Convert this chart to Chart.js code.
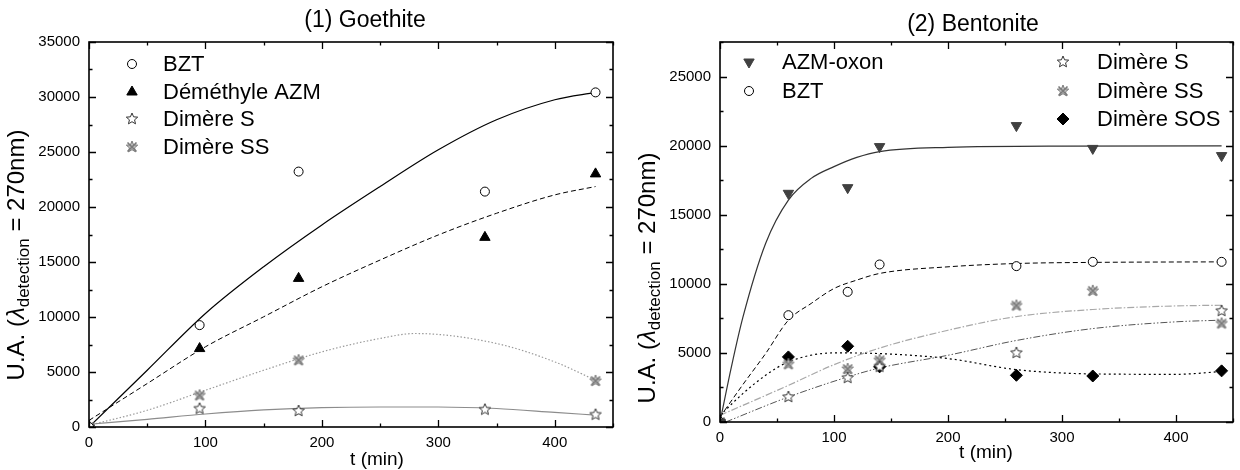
<!DOCTYPE html>
<html>
<head>
<meta charset="utf-8">
<script src="https://cdn.jsdelivr.net/npm/chart.js@4.4.1/dist/chart.umd.min.js"></script>
<style>
  html, body { margin: 0; padding: 0; background: #fff; }
  .wrap { display: flex; width: 1240px; height: 470px; }
  .panel { width: 620px; height: 470px; }
</style>
</head>
<body>
<div class="wrap">
  <div class="panel"><canvas id="goethite" width="620" height="470"></canvas></div>
  <div class="panel"><canvas id="bentonite" width="620" height="470"></canvas></div>
</div>
<script>
const FONT = "'Liberation Sans', Arial, sans-serif";

// ── (1) Goethite : mesures ──────────────────────────────────────────────────
const goeTimes = [0, 95, 180, 340, 435];
const goeBZT = [0, 9260, 23220, 21400, 30420];
const goeDemethyl = [0, 7130, 13510, 17240, 23010];
const goeDimereS = [0, 1670, 1460, 1580, 1120];
const goeSSTimes = [0, 95, 180, 435];
const goeDimereSS = [0, 2880, 6070, 4190];

// courbes d'ajustement
const goeFitTimes = [0, 50, 100, 150, 200, 250, 300, 350, 400, 435];
const goeFitBZT = [0, 5160, 10320, 14570, 18370, 21860, 25200, 27930, 29750, 30420];
const goeFitDemethyl = [600, 3950, 7290, 10020, 12750, 15180, 17460, 19430, 21100, 21860];
const goeFitS = [250, 700, 1180, 1550, 1760, 1820, 1820, 1680, 1330, 1080];
const goeFitSSTimes = [0, 50, 100, 150, 200, 250, 280, 350, 400, 435];
const goeFitSS = [150, 1520, 3340, 5160, 6830, 8050, 8500, 7590, 5920, 4250];

// ── (2) Bentonite : mesures ─────────────────────────────────────────────────
const benTimes = [0, 60, 112, 140, 260, 327, 440];
const benAZMoxon = [0, 16550, 16960, 19930, 21450, 19800, 19280];
const benBZT = [0, 7730, 9420, 11400, 11280, 11590, 11590];
const benSTimes = [0, 60, 112, 140, 260, 440];
const benDimereS = [0, 1810, 3190, 4000, 5000, 8040];
const benDimereSS = [0, 4180, 3840, 4470, 8430, 9490, 7130];
const benDimereSOS = [0, 4710, 5480, 3990, 3380, 3330, 3700];

// courbes d'ajustement
const benFitAZMTimes = [0, 10, 20, 40, 60, 80, 100, 120, 140, 200, 300, 440];
const benFitAZM = [0, 3990, 7550, 12920, 16060, 17630, 18480, 19150, 19570, 19880, 19970, 19980];
const benFitBZTTimes = [0, 20, 40, 60, 80, 100, 120, 140, 200, 260, 327, 440];
const benFitBZT = [360, 2700, 4950, 7370, 8580, 9660, 10270, 10750, 11230, 11470, 11550, 11590];
const benFitSSTimes = [0, 60, 100, 140, 200, 260, 327, 400, 440];
const benFitSS = [480, 2650, 4150, 5350, 6640, 7630, 8140, 8400, 8450];
const benFitSTimes = [5, 60, 112, 140, 200, 260, 327, 400, 440];
const benFitS = [0, 1810, 3260, 3910, 4830, 5900, 6760, 7250, 7370];
const benFitSOSTimes = [0, 20, 40, 60, 100, 140, 200, 260, 327, 400, 440];
const benFitSOS = [480, 2050, 3380, 4350, 5000, 4950, 4590, 3790, 3480, 3450, 3650];

// ── Marqueurs ───────────────────────────────────────────────────────────────

function starCanvas(r, stroke, fill, cross) {
  const size = Math.ceil(r * 2 + 4);
  const c = document.createElement('canvas');
  c.width = c.height = size;
  const g = c.getContext('2d');
  const cx = size / 2, cy = size / 2;
  g.beginPath();
  for (let i = 0; i < 10; i++) {
    const rad = i % 2 === 0 ? r : r * 0.45;
    const a = -Math.PI / 2 + i * Math.PI / 5;
    const px = cx + rad * Math.cos(a), py = cy + rad * Math.sin(a);
    if (i === 0) g.moveTo(px, py); else g.lineTo(px, py);
  }
  g.closePath();
  g.fillStyle = fill;
  g.fill();
  g.strokeStyle = stroke;
  g.lineWidth = 1;
  g.stroke();
  if (cross) {
    g.lineWidth = 1.6;
    g.beginPath();
    const k = r * 0.75;
    g.moveTo(cx - k, cy - k); g.lineTo(cx + k, cy + k);
    g.moveTo(cx + k, cy - k); g.lineTo(cx - k, cy + k);
    g.stroke();
  }
  return c;
}

const STAR_OPEN = starCanvas(6, '#333', '#fff', false);
const STAR_GREY = starCanvas(6, '#7a7a7a', '#bdbdbd', true);

function pts(xs, ys) {
  return xs.map((x, i) => ({ x, y: ys[i] }));
}

function markers(label, xs, ys, shape, fill, stroke, radius, rotation) {
  return {
    label,
    data: pts(xs, ys),
    showLine: false,
    pointStyle: shape,
    pointRadius: radius,
    pointHoverRadius: radius,
    pointRotation: rotation || 0,
    pointBackgroundColor: fill,
    pointBorderColor: stroke,
    pointBorderWidth: 1,
  };
}

function fit(xs, ys, color, dash, width) {
  return {
    label: '',
    data: pts(xs, ys),
    showLine: true,
    pointRadius: 0,
    pointHoverRadius: 0,
    borderColor: color,
    borderDash: dash,
    borderWidth: width || 1,
    cubicInterpolationMode: 'monotone',
    fill: false,
  };
}

// ── Plugins : cadre, graduations internes, légende, titres ─────────────────

const frameTicks = {
  id: 'frameTicks',
  afterDatasetsDraw(chart, args, opts) {
    const { ctx, chartArea: a, scales: { x, y } } = chart;
    ctx.save();
    ctx.strokeStyle = '#000';
    ctx.lineWidth = 1.3;
    ctx.beginPath();
    for (let v = x.min; v <= x.max; v += opts.xMinor) {
      const len = v % opts.xMajor === 0 ? 7 : 3.5;
      const px = Math.round(x.getPixelForValue(v)) + 0.5;
      ctx.moveTo(px, a.bottom); ctx.lineTo(px, a.bottom - len);
      ctx.moveTo(px, a.top); ctx.lineTo(px, a.top + len);
    }
    for (let v = y.min; v <= y.max; v += opts.yMinor) {
      const len = v % opts.yMajor === 0 ? 7 : 3.5;
      const py = Math.round(y.getPixelForValue(v)) + 0.5;
      ctx.moveTo(a.left, py); ctx.lineTo(a.left + len, py);
      ctx.moveTo(a.right, py); ctx.lineTo(a.right - len, py);
    }
    ctx.stroke();
    ctx.lineWidth = 1.6;
    ctx.strokeRect(a.left, a.top, a.right - a.left, a.bottom - a.top);
    ctx.restore();
  },
};

const insideLegend = {
  id: 'insideLegend',
  afterDraw(chart, args, opts) {
    const { ctx } = chart;
    ctx.save();
    ctx.font = `22px ${FONT}`;
    ctx.textBaseline = 'middle';
    opts.items.forEach(it => {
      const ds = chart.data.datasets[it.ds];
      ctx.fillStyle = ds.pointBackgroundColor;
      ctx.strokeStyle = ds.pointBorderColor;
      ctx.lineWidth = ds.pointBorderWidth;
      Chart.helpers.drawPoint(ctx, {
        pointStyle: ds.pointStyle,
        rotation: ds.pointRotation,
        radius: ds.pointRadius,
        borderWidth: ds.pointBorderWidth,
      }, it.x, it.y);
      ctx.fillStyle = '#000';
      ctx.fillText(ds.label, it.tx, it.y + 1);
    });
    ctx.restore();
  },
};

const axisTitles = {
  id: 'axisTitles',
  afterDraw(chart, args, opts) {
    const { ctx } = chart;
    ctx.save();
    ctx.fillStyle = '#000';
    ctx.textAlign = 'center';
    ctx.textBaseline = 'middle';

    ctx.font = `23px ${FONT}`;
    ctx.fillText(opts.title.text, opts.title.x, opts.title.y);

    ctx.font = `19px ${FONT}`;
    ctx.fillText('t (min)', opts.xTitle.x, opts.xTitle.y);

    // U.A. (λ_detection = 270nm), tourné de 90°
    const parts = [
      { t: 'U.A. (', f: `24px ${FONT}`, dy: 0 },
      { t: 'λ', f: `italic 24px ${FONT}`, dy: 0 },
      { t: 'detection', f: `17px ${FONT}`, dy: 7 },
      { t: ' = 270nm)', f: `24px ${FONT}`, dy: 0 },
    ];
    let total = 0;
    parts.forEach(p => { ctx.font = p.f; p.w = ctx.measureText(p.t).width; total += p.w; });
    ctx.translate(opts.yTitle.x, opts.yTitle.y);
    ctx.rotate(-Math.PI / 2);
    ctx.textAlign = 'left';
    let cx = -total / 2;
    parts.forEach(p => {
      ctx.font = p.f;
      ctx.fillText(p.t, cx, p.dy);
      cx += p.w;
    });
    ctx.restore();
  },
};

// ── Construction des graphiques ─────────────────────────────────────────────

function buildOptions({ yMax, yWidth, xHeight, padRight, plugins }) {
  const tickFont = { family: FONT, size: 15 };
  return {
    responsive: false,
    animation: false,
    devicePixelRatio: 1,
    layout: { padding: { top: 42, right: padRight, bottom: 0, left: 0 } },
    plugins: Object.assign({ legend: { display: false }, tooltip: { enabled: false } }, plugins),
    scales: {
      x: {
        type: 'linear',
        min: 0,
        max: 450,
        grid: { display: false, drawTicks: false },
        border: { display: false },
        ticks: {
          stepSize: 50, padding: 7, color: '#000', font: tickFont,
          maxRotation: 0, autoSkip: false, callback: v => String(v),
        },
        afterBuildTicks: s => { s.ticks = s.ticks.filter(t => Math.round(t.value) % 100 === 0); },
        afterFit: s => { s.height = xHeight; },
      },
      y: {
        type: 'linear',
        min: 0,
        max: yMax,
        grid: { display: false, drawTicks: false },
        border: { display: false },
        ticks: {
          stepSize: 2500, padding: 9, color: '#000', font: tickFont,
          autoSkip: false, callback: v => String(v),
        },
        afterBuildTicks: s => { s.ticks = s.ticks.filter(t => Math.round(t.value) % 5000 === 0); },
        afterFit: s => { s.width = yWidth; },
      },
    },
  };
}

function renderGoethite() {
  const datasets = [
    markers('BZT', goeTimes, goeBZT, 'circle', '#fff', '#000', 4.5),
    markers('Déméthyle AZM', goeTimes, goeDemethyl, 'triangle', '#000', '#000', 6),
    markers('Dimère S', goeTimes, goeDimereS, STAR_OPEN, '#fff', '#333', 6),
    markers('Dimère SS', goeSSTimes, goeDimereSS, STAR_GREY, '#bdbdbd', '#7a7a7a', 6),
    fit(goeFitTimes, goeFitBZT, '#000', [], 1.2),
    fit(goeFitTimes, goeFitDemethyl, '#000', [5, 3], 1),
    fit(goeFitTimes, goeFitS, '#8c8c8c', [], 1.2),
    fit(goeFitSSTimes, goeFitSS, '#9a9a9a', [1.5, 2], 1.2),
  ];

  const ctx = document.getElementById('goethite').getContext('2d');
  new Chart(ctx, {
    type: 'scatter',
    data: { datasets },
    options: buildOptions({
      yMax: 35000,
      yWidth: 89,
      xHeight: 43,
      padRight: 4.5,
      plugins: {
        frameTicks: { xMinor: 50, xMajor: 100, yMinor: 2500, yMajor: 5000 },
        insideLegend: {
          items: [
            { ds: 0, x: 132, y: 64, tx: 163 },
            { ds: 1, x: 132, y: 92, tx: 163 },
            { ds: 2, x: 132, y: 119, tx: 163 },
            { ds: 3, x: 132, y: 147, tx: 163 },
          ],
        },
        axisTitles: {
          title: { text: '(1) Goethite', x: 365, y: 21 },
          xTitle: { x: 377, y: 460 },
          yTitle: { x: 17, y: 255 },
        },
      },
    }),
    plugins: [frameTicks, insideLegend, axisTitles],
  });
}

function renderBentonite() {
  const datasets = [
    markers('AZM-oxon', benTimes, benAZMoxon, 'triangle', '#404040', '#404040', 6, 180),
    markers('BZT', benTimes, benBZT, 'circle', '#fff', '#000', 4.5),
    markers('Dimère S', benSTimes, benDimereS, STAR_OPEN, '#fff', '#333', 6),
    markers('Dimère SS', benTimes, benDimereSS, STAR_GREY, '#bdbdbd', '#7a7a7a', 6),
    markers('Dimère SOS', benTimes, benDimereSOS, 'rectRot', '#000', '#000', 6),
    fit(benFitAZMTimes, benFitAZM, '#333', [], 1.2),
    fit(benFitBZTTimes, benFitBZT, '#000', [5, 3], 1),
    fit(benFitSSTimes, benFitSS, '#a8a8a8', [7, 2, 1.5, 2], 1.2),
    fit(benFitSTimes, benFitS, '#555', [7, 2, 1.5, 2, 1.5, 2], 1),
    fit(benFitSOSTimes, benFitSOS, '#000', [2, 3], 1.2),
  ];

  const ctx = document.getElementById('bentonite').getContext('2d');
  new Chart(ctx, {
    type: 'scatter',
    data: { datasets },
    options: buildOptions({
      yMax: 27500,
      yWidth: 100,
      xHeight: 48,
      padRight: 1,
      plugins: {
        frameTicks: { xMinor: 50, xMajor: 100, yMinor: 2500, yMajor: 5000 },
        insideLegend: {
          items: [
            { ds: 0, x: 129, y: 62, tx: 162 },
            { ds: 1, x: 129, y: 91, tx: 162 },
            { ds: 2, x: 443, y: 62, tx: 477 },
            { ds: 3, x: 443, y: 91, tx: 477 },
            { ds: 4, x: 443, y: 119, tx: 477 },
          ],
        },
        axisTitles: {
          title: { text: '(2) Bentonite', x: 353, y: 25 },
          xTitle: { x: 366, y: 453 },
          yTitle: { x: 28, y: 278 },
        },
      },
    }),
    plugins: [frameTicks, insideLegend, axisTitles],
  });
}

renderGoethite();
renderBentonite();
</script>
</body>
</html>
